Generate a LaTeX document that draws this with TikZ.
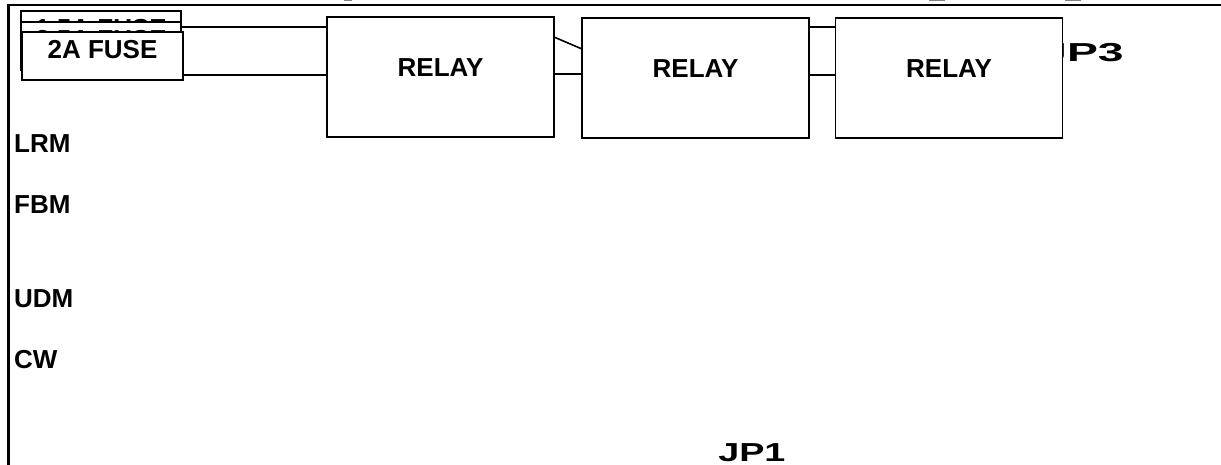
\documentclass[tikz,border=0pt]{standalone}
\usepackage{fontspec}
\setmainfont{Liberation Sans}
\tikzset
{
	my box/.style={draw,fill=white,line width=1.8pt,inner sep=0pt,outer sep=0pt,font=\bfseries\fontsize{26}{30}\selectfont},
	my relay/.style={my box,minimum width=227pt,minimum height=120pt,text height=19pt,text depth=19pt},
	my fuse/.style={my box,minimum width=160pt,minimum height=48pt,text height=19pt,text depth=13pt},
	my wire/.style={line width=1.6pt},
	my label/.style={anchor=base west,inner sep=0pt,font=\bfseries\fontsize{26}{30}\selectfont}
}

\begin{document}
\begin{tikzpicture}[x=1pt,y=-1pt,line cap=butt,line join=miter]
		\useasboundingbox (0,0) rectangle (1221,465);
		% frame
		\draw[line width=2.2pt] (8.5,465) -- (8.5,5) -- (1221,5);
		% bits of clipped text at the top edge
		\coordinate (cut1) at (344,0.5);
		\coordinate (cut2) at (929,0.5);
		\coordinate (cut3) at (1065,0.5);
		\foreach\i/\j in {cut1/8,cut2/16,cut3/16}
		\draw[gray,line width=1pt] (\i) -- ++(\j,0);
		% connector labels
		\node[my label,xscale=1.78,transform shape] (jp3) at (1041,62) {JP3};
		\node[my label,xscale=1.45,transform shape] (jp1) at (718,461) {JP1};
		% relays
		\node[my relay] (relay1) at (440.5,77) {RELAY};
		\node[my relay] (relay2) at (695.5,78) {RELAY};
		\node[my relay] (relay3) at (949,78) {RELAY};
		% fuses
		\node[my fuse] (fuse1) at (101,35) {1.5A FUSE};
		\node[my fuse] (fuse2) at (101,46) {2.5A FUSE};
		\node[my fuse,minimum width=161pt] (fuse3) at (102.5,56) {2A FUSE};
		% wires
		\coordinate (upper) at (0,27);
		\coordinate (lower) at (0,75);
		\draw[my wire] (fuse2.east |- upper) -- (relay1.west |- upper);
		\draw[line width=2.4pt] ([xshift=-10pt]relay1.west |- upper) -- (relay1.west |- upper);
		\draw[my wire] (fuse3.east |- lower) -- (relay1.west |- lower);
		\draw[my wire] ([yshift=40pt]relay1.east) -- ([yshift=29pt]relay2.west);
		\draw[my wire] (relay1.east |- 0,74) -- (relay2.west |- 0,74);
		\draw[my wire] (relay2.east |- upper) -- (relay3.west |- upper);
		\draw[my wire] (relay2.east |- lower) -- (relay3.west |- lower);
		% side labels
		\node[my label] (lrm) at (14,153) {LRM};
		\node[my label] (fbm) at (14,214) {FBM};
		\node[my label] (udm) at (14,307) {UDM};
		\node[my label] (cw) at (14,368) {CW};
	\end{tikzpicture}
\end{document}
